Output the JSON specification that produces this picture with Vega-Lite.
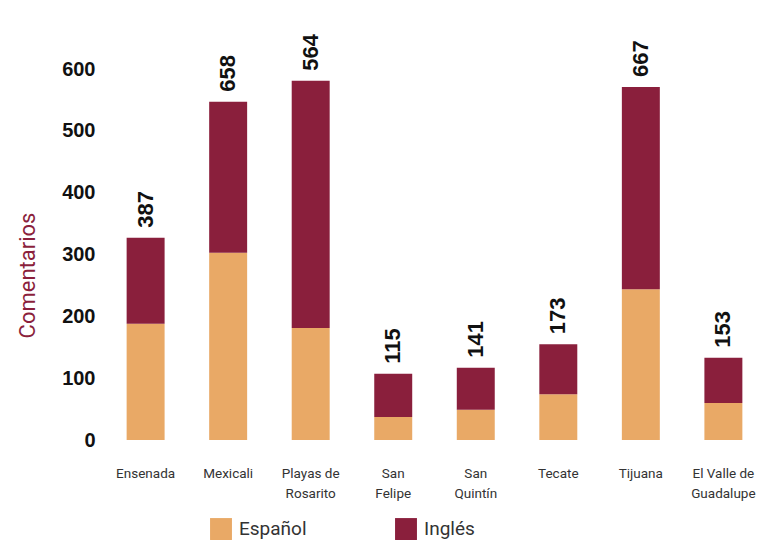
{
  "$schema": "https://vega.github.io/schema/vega-lite/v6.json",
  "width": 657,
  "height": 371,
  "autosize": {"type": "none"},
  "padding": {"left": 106, "top": 69, "right": 0, "bottom": 102},
  "background": "white",
  "config": {"view": {"stroke": null}, "font": "Roboto"},
  "data": {
    "values": [
      {"ciudad": "Ensenada", "idioma": "Español", "comentarios": 188, "total": 387},
      {"ciudad": "Ensenada", "idioma": "Inglés", "comentarios": 139, "total": 387},
      {"ciudad": "Mexicali", "idioma": "Español", "comentarios": 303, "total": 658},
      {"ciudad": "Mexicali", "idioma": "Inglés", "comentarios": 244, "total": 658},
      {"ciudad": "Playas de Rosarito", "idioma": "Español", "comentarios": 181, "total": 564},
      {"ciudad": "Playas de Rosarito", "idioma": "Inglés", "comentarios": 400, "total": 564},
      {"ciudad": "San Felipe", "idioma": "Español", "comentarios": 37, "total": 115},
      {"ciudad": "San Felipe", "idioma": "Inglés", "comentarios": 70, "total": 115},
      {"ciudad": "San Quintín", "idioma": "Español", "comentarios": 49, "total": 141},
      {"ciudad": "San Quintín", "idioma": "Inglés", "comentarios": 68, "total": 141},
      {"ciudad": "Tecate", "idioma": "Español", "comentarios": 74, "total": 173},
      {"ciudad": "Tecate", "idioma": "Inglés", "comentarios": 81, "total": 173},
      {"ciudad": "Tijuana", "idioma": "Español", "comentarios": 244, "total": 667},
      {"ciudad": "Tijuana", "idioma": "Inglés", "comentarios": 327, "total": 667},
      {"ciudad": "El Valle de Guadalupe", "idioma": "Español", "comentarios": 60, "total": 153},
      {"ciudad": "El Valle de Guadalupe", "idioma": "Inglés", "comentarios": 73, "total": 153}
    ]
  },
  "encoding": {
    "x": {
      "field": "ciudad",
      "type": "nominal",
      "sort": ["Ensenada", "Mexicali", "Playas de Rosarito", "San Felipe", "San Quintín", "Tecate", "Tijuana", "El Valle de Guadalupe"],
      "scale": {"paddingInner": 0.54, "paddingOuter": 0.25},
      "axis": {
        "title": null,
        "labelAngle": 0,
        "domain": false,
        "ticks": false,
        "tickSize": 0,
        "labelPadding": 33,
        "labelBaseline": "middle",
        "labelFontSize": 13.5,
        "labelColor": "#333333",
        "labelLineHeight": 20,
        "labelExpr": "datum.label == 'Playas de Rosarito' ? ['Playas de', 'Rosarito'] : datum.label == 'San Felipe' ? ['San', 'Felipe'] : datum.label == 'San Quintín' ? ['San', 'Quintín'] : datum.label == 'El Valle de Guadalupe' ? ['El Valle de', 'Guadalupe'] : datum.label"
      }
    }
  },
  "layer": [
    {
      "mark": {"type": "bar"},
      "encoding": {
        "y": {
          "field": "comentarios",
          "type": "quantitative",
          "stack": "zero",
          "scale": {"domain": [0, 600], "nice": false},
          "axis": {
            "title": "Comentarios",
            "titleColor": "#8B1F3C",
            "titleFontSize": 22,
            "titleFontWeight": "normal",
            "titlePadding": 22,
            "titleY": 206,
            "values": [0, 100, 200, 300, 400, 500, 600],
            "grid": false,
            "domain": false,
            "ticks": false,
            "labelPadding": 11,
            "labelFontSize": 20,
            "labelFontWeight": "bold",
            "labelFont": "Liberation Sans",
            "labelColor": "#111111"
          }
        },
        "order": {"field": "idioma", "sort": "ascending"},
        "color": {
          "field": "idioma",
          "type": "nominal",
          "scale": {"domain": ["Español", "Inglés"], "range": ["#E9A966", "#8A1F3C"]},
          "legend": {
            "title": null,
            "orient": "none",
            "direction": "horizontal",
            "legendX": 104,
            "legendY": 449,
            "symbolType": "square",
            "symbolSize": 480,
            "symbolStrokeWidth": 0,
            "labelFontSize": 19,
            "labelColor": "#333333",
            "labelOffset": 7,
            "columnPadding": 88
          }
        }
      }
    },
    {
      "mark": {"type": "text", "angle": -90, "align": "left", "baseline": "middle", "dx": 10, "fontSize": 22, "fontWeight": "bold", "font": "Liberation Sans", "color": "#111111"},
      "encoding": {
        "y": {"aggregate": "sum", "field": "comentarios", "type": "quantitative"},
        "text": {"aggregate": "max", "field": "total", "type": "quantitative"}
      }
    }
  ]
}
